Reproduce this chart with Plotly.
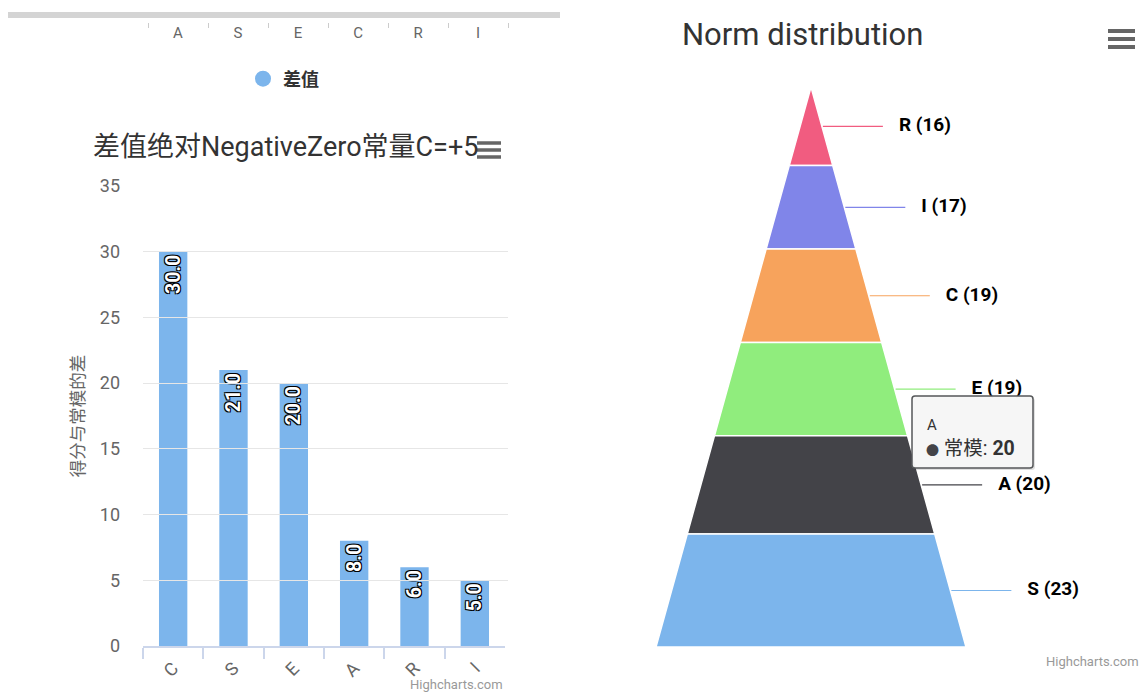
import plotly.graph_objects as go

W, H = 1141, 692
FONT = "Roboto, 'Noto Sans CJK SC', sans-serif"

# ---------------- data ----------------
# left: column chart
bar_categories = ["C", "S", "E", "A", "R", "I"]
bar_values = [30, 21, 20, 8, 6, 5]
bar_series_name = "差值"
bar_title = "差值绝对NegativeZero常量C=+5"
bar_yaxis_title = "得分与常模的差"
bar_yticks = [0, 5, 10, 15, 20, 25, 30, 35]

# cropped axis of a chart above (top strip)
top_axis_labels = ["A", "S", "E", "C", "R", "I"]

# right: pyramid (listed bottom -> top)
pyr_categories = ["S", "A", "E", "C", "I", "R"]
pyr_values = [23, 20, 19, 19, 17, 16]
pyr_colors = ["#7cb5ec", "#434348", "#90ed7d", "#f7a35c", "#8085e9", "#f15c80"]
pyr_series_name = "常模"
pyr_title = "Norm distribution"
tooltip_point = "A"

# ---------------- styling constants (pixel geometry) ----------------
BAR_X0, BAR_X1 = 143, 505
BAR_Y0, BAR_Y1 = 646, 186
APEX_X, APEX_Y, BASE_Y, HALF_BASE = 811, 87, 647, 155
CONNECTOR_LEN, LABEL_GAP = 60, 16


def px(x):
    return x / W


def py(y):
    return 1 - y / H


fig = go.Figure()

# ---- column chart ----
fig.add_trace(go.Bar(
    x=bar_categories, y=bar_values, name=bar_series_name,
    marker=dict(color="#7cb5ec", line=dict(width=0)),
    text=[f"{v:.1f}" for v in bar_values],
    textposition="inside", insidetextanchor="end", textangle=-90,
    constraintext="none",
    textfont=dict(family=FONT, size=19.5, color="white", weight="bold",
                  shadow="#000 1px 1px 0, #000 -1px -1px 0, #000 1px -1px 0, #000 -1px 1px 0"),
    showlegend=False, hoverinfo="skip",
    xaxis="x", yaxis="y",
))
# legend entry (circle symbol like the original)
fig.add_trace(go.Scatter(
    x=[None], y=[None], mode="markers", name=bar_series_name,
    marker=dict(symbol="circle", size=17, color="#7cb5ec"),
    xaxis="x", yaxis="y", showlegend=True,
))
# helper trace so the cropped top axis is drawn
fig.add_trace(go.Scatter(
    x=list(range(len(top_axis_labels))), y=[None] * len(top_axis_labels),
    mode="markers", xaxis="x2", yaxis="y", showlegend=False, hoverinfo="skip",
))

# ---- pyramid ----
total = sum(pyr_values)
height = BASE_Y - APEX_Y
scale = height / total


def half_width(y):
    return (y - APEX_Y) / height * HALF_BASE


order = list(range(len(pyr_values)))[::-1]  # top first
cum = 0
label_x, label_y, label_txt = [], [], []
for i in order:
    v = pyr_values[i]
    yt = APEX_Y + cum * scale
    yb = APEX_Y + (cum + v) * scale
    xs = [APEX_X - half_width(yt), APEX_X + half_width(yt),
          APEX_X + half_width(yb), APEX_X - half_width(yb), APEX_X - half_width(yt)]
    ys = [yt, yt, yb, yb, yt]
    fig.add_trace(go.Scatter(
        x=xs, y=ys, fill="toself", fillcolor=pyr_colors[i], mode="lines",
        line=dict(color="white", width=1.5), xaxis="x3", yaxis="y3",
        showlegend=False, hoverinfo="skip",
    ))
    yc = APEX_Y + (cum + v / 2) * scale
    xe = APEX_X + half_width(yc)
    fig.add_trace(go.Scatter(
        x=[xe + 1, xe + 1 + CONNECTOR_LEN], y=[yc, yc], mode="lines",
        line=dict(color=pyr_colors[i], width=1.2), xaxis="x3", yaxis="y3",
        showlegend=False, hoverinfo="skip",
    ))
    label_x.append(xe + 1 + CONNECTOR_LEN + LABEL_GAP)
    label_y.append(yc)
    label_txt.append(f"{pyr_categories[i]} ({v})")
    cum += v

fig.add_trace(go.Scatter(
    x=label_x, y=label_y, text=label_txt, mode="text", textposition="middle right",
    textfont=dict(family=FONT, size=19, color="#000", weight="bold"),
    xaxis="x3", yaxis="y3", showlegend=False, hoverinfo="skip",
))

# ---------------- layout ----------------
shapes = []
# grey strip at top
shapes.append(dict(type="rect", xref="x3", yref="y3", x0=8, x1=560, y0=12, y1=18,
                   fillcolor="#d4d4d4", line=dict(width=0), layer="above"))


def burger(x0, x1, ys, w):
    for yy in ys:
        shapes.append(dict(type="line", xref="x3", yref="y3", x0=x0, x1=x1, y0=yy, y1=yy,
                           line=dict(color="#666666", width=w), layer="above"))


burger(477, 501, [143, 150, 157], 3.5)
burger(1108, 1135, [31, 39, 47], 4)

# tooltip box
tx0, tx1, ty0, ty1, r = 912, 1033, 396, 468, 3


def rounded(x0, x1, y0, y1, r):
    return (f"M{x0+r},{y0} L{x1-r},{y0} Q{x1},{y0} {x1},{y0+r} L{x1},{y1-r} "
            f"Q{x1},{y1} {x1-r},{y1} L{x0+r},{y1} Q{x0},{y1} {x0},{y1-r} "
            f"L{x0},{y0+r} Q{x0},{y0} {x0+r},{y0} Z")


shapes.append(dict(type="path", xref="x3", yref="y3", path=rounded(tx0 + 2, tx1 + 2, ty0 + 2, ty1 + 2, r),
                   fillcolor="rgba(0,0,0,0.12)", line=dict(width=0), layer="above"))
shapes.append(dict(type="path", xref="x3", yref="y3", path=rounded(tx0, tx1, ty0, ty1, r),
                   fillcolor="rgba(247,247,247,0.96)", line=dict(color="#555759", width=1.5), layer="above"))

tip_idx = pyr_categories.index(tooltip_point)
annotations = [
    dict(text=bar_title, x=px(285), y=py(147), xref="paper", yref="paper",
         xanchor="center", yanchor="middle",
         showarrow=False, font=dict(family=FONT, size=27, color="#333333")),
    dict(text=pyr_title, x=px(802), y=py(35), xref="paper", yref="paper",
         xanchor="center", yanchor="middle",
         showarrow=False, font=dict(family=FONT, size=31, color="#333333")),
    dict(text=pyr_categories[tip_idx], x=px(925), y=py(425), xref="paper", yref="paper",
         xanchor="left", yanchor="middle", showarrow=False,
         font=dict(family=FONT, size=15, color="#333333")),
    dict(text=f"<span style='color:{pyr_colors[tip_idx]};font-size:13px'>●</span> {pyr_series_name}: <b>{pyr_values[tip_idx]}</b>",
         x=px(924), y=py(448), xref="paper", yref="paper",
         xanchor="left", yanchor="middle", showarrow=False,
         font=dict(family=FONT, size=19.5, color="#333333")),
    dict(text="Highcharts.com", x=px(505), y=py(675), xref="paper", yref="paper",
         xanchor="right", yanchor="top", showarrow=False, font=dict(family=FONT, size=13, color="#999999")),
    dict(text="Highcharts.com", x=px(1141), y=py(652), xref="paper", yref="paper",
         xanchor="right", yanchor="top", showarrow=False, font=dict(family=FONT, size=13, color="#999999")),
]

fig.update_layout(
    width=W, height=H, autosize=False,
    margin=dict(l=0, r=0, t=0, b=0, pad=0, autoexpand=False),
    paper_bgcolor="white", plot_bgcolor="rgba(0,0,0,0)",
    font=dict(family=FONT),
    bargap=0.53,
    showlegend=True,
    legend=dict(x=px(243), y=py(79), xanchor="left", yanchor="middle",
                font=dict(family=FONT, size=18, color="#333333", weight="bold"),
                bgcolor="rgba(0,0,0,0)", itemwidth=30),
    xaxis=dict(domain=[px(BAR_X0), px(BAR_X1)], anchor="y", type="category",
               showline=True, linecolor="#ccd6eb", linewidth=1.5,
               ticks="outside", tickson="boundaries", ticklen=11, tickcolor="#ccd6eb", tickwidth=1.5,
               tickangle=-45, ticklabelstandoff=3,
               tickfont=dict(family=FONT, size=18, color="#666666"),
               showgrid=False, fixedrange=True),
    yaxis=dict(domain=[py(BAR_Y0), py(BAR_Y1)], anchor="x", range=[0, 35],
               tickvals=bar_yticks, showgrid=True, gridcolor="#e6e6e6", gridwidth=1,
               zeroline=False, showline=False, ticks="", ticklabelstandoff=22,
               tickfont=dict(family=FONT, size=18, color="#666666"),
               title=dict(text=bar_yaxis_title, standoff=10,
                          font=dict(family=FONT, size=17.5, color="#666666")),
               fixedrange=True),
    xaxis2=dict(domain=[px(148), px(508)], anchor="free", position=py(22),
                range=[-0.5, len(top_axis_labels) - 0.5],
                tickvals=list(range(len(top_axis_labels))), ticktext=top_axis_labels,
                ticks="", showline=False, showgrid=False, zeroline=False,
                tickfont=dict(family=FONT, size=15, color="#666666"),
                minor=dict(ticks="outside", tick0=-0.5, dtick=1, ticklen=5,
                           tickcolor="#cccccc", tickwidth=1, showgrid=False),
                fixedrange=True),
    xaxis3=dict(domain=[0, 1], anchor="y3", range=[0, W], visible=False, fixedrange=True),
    yaxis3=dict(domain=[0, 1], anchor="x3", range=[H, 0], visible=False, fixedrange=True),
    shapes=shapes,
    annotations=annotations,
)

fig.write_html(
    "out.html",
    config={"displayModeBar": False},
    post_script="document.body.style.margin='0';"
                "document.body.style.overflow='hidden';document.documentElement.style.overflow='hidden';",
)
